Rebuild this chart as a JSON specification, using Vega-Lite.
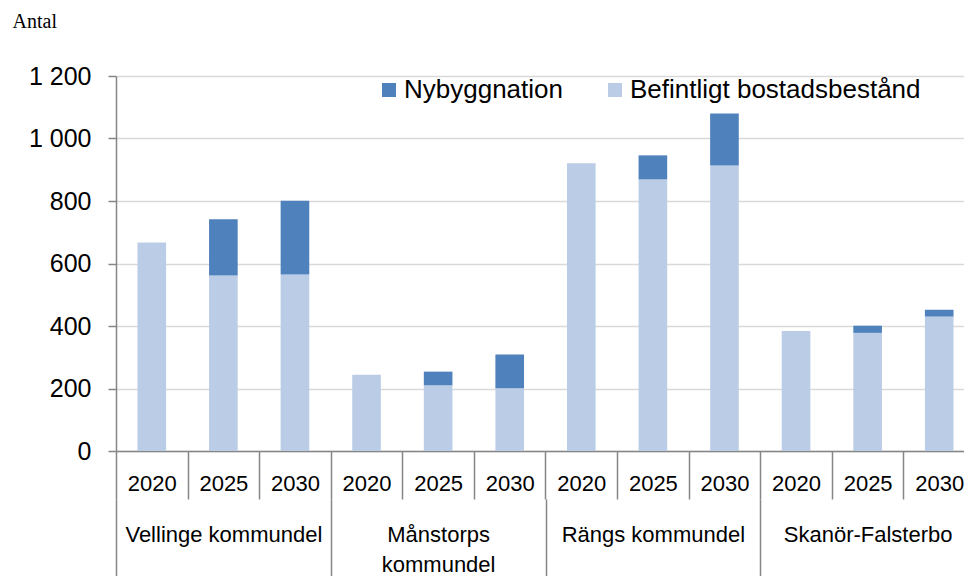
{
  "$schema": "https://vega.github.io/schema/vega-lite/v6.json",
  "width": 859,
  "height": 375,
  "autosize": {"type": "none"},
  "padding": {"left": 116, "top": 76, "right": 0, "bottom": 125},
  "config": {"view": {"stroke": null}, "font": "Liberation Sans"},
  "layer": [
    {
      "data": {
        "values": [
          {"key": "Vellinge kommundel|2020", "series": "Befintligt bostadsbestånd", "value": 667},
          {"key": "Vellinge kommundel|2020", "series": "Nybyggnation", "value": 0},
          {"key": "Vellinge kommundel|2025", "series": "Befintligt bostadsbestånd", "value": 562},
          {"key": "Vellinge kommundel|2025", "series": "Nybyggnation", "value": 180},
          {"key": "Vellinge kommundel|2030", "series": "Befintligt bostadsbestånd", "value": 565},
          {"key": "Vellinge kommundel|2030", "series": "Nybyggnation", "value": 236},
          {"key": "Månstorps kommundel|2020", "series": "Befintligt bostadsbestånd", "value": 244},
          {"key": "Månstorps kommundel|2020", "series": "Nybyggnation", "value": 0},
          {"key": "Månstorps kommundel|2025", "series": "Befintligt bostadsbestånd", "value": 210},
          {"key": "Månstorps kommundel|2025", "series": "Nybyggnation", "value": 44},
          {"key": "Månstorps kommundel|2030", "series": "Befintligt bostadsbestånd", "value": 201},
          {"key": "Månstorps kommundel|2030", "series": "Nybyggnation", "value": 108},
          {"key": "Rängs kommundel|2020", "series": "Befintligt bostadsbestånd", "value": 921},
          {"key": "Rängs kommundel|2020", "series": "Nybyggnation", "value": 0},
          {"key": "Rängs kommundel|2025", "series": "Befintligt bostadsbestånd", "value": 869},
          {"key": "Rängs kommundel|2025", "series": "Nybyggnation", "value": 77},
          {"key": "Rängs kommundel|2030", "series": "Befintligt bostadsbestånd", "value": 914},
          {"key": "Rängs kommundel|2030", "series": "Nybyggnation", "value": 166},
          {"key": "Skanör-Falsterbo|2020", "series": "Befintligt bostadsbestånd", "value": 384},
          {"key": "Skanör-Falsterbo|2020", "series": "Nybyggnation", "value": 0},
          {"key": "Skanör-Falsterbo|2025", "series": "Befintligt bostadsbestånd", "value": 378},
          {"key": "Skanör-Falsterbo|2025", "series": "Nybyggnation", "value": 23},
          {"key": "Skanör-Falsterbo|2030", "series": "Befintligt bostadsbestånd", "value": 430},
          {"key": "Skanör-Falsterbo|2030", "series": "Nybyggnation", "value": 22}
        ]
      },
      "mark": {"type": "bar", "width": {"band": 0.4}},
      "encoding": {
        "x": {
          "field": "key",
          "type": "nominal",
          "sort": null,
          "scale": {"paddingInner": 0, "paddingOuter": 0},
          "axis": {
            "title": null,
            "labelExpr": "split(datum.label, '|')[1]",
            "tickBand": "extent",
            "tickSize": 48,
            "tickColor": "#868686",
            "tickWidth": 1.5,
            "domainColor": "#868686",
            "domainWidth": 1.5,
            "labelFont": "Liberation Sans",
            "labelFontSize": 22,
            "labelColor": "#000000",
            "labelAngle": 0,
            "labelAlign": "center",
            "labelBaseline": "alphabetic",
            "labelPadding": -9,
            "labelOverlap": false,
            "labelFlush": false,
            "labelLimit": 0,
            "grid": false
          }
        },
        "y": {
          "field": "value",
          "type": "quantitative",
          "stack": "zero",
          "scale": {"domain": [0, 1200]},
          "axis": {
            "title": "Antal",
            "titleAngle": 0,
            "titleX": -104,
            "titleY": -49,
            "titleAlign": "left",
            "titleBaseline": "alphabetic",
            "titleFont": "Liberation Serif",
            "titleFontSize": 20,
            "titleFontWeight": "normal",
            "titleColor": "#000000",
            "values": [0, 200, 400, 600, 800, 1000, 1200],
            "labelExpr": "replace(format(datum.value, ','), ',', ' ')",
            "labelFontSize": 25,
            "labelColor": "#000000",
            "labelPadding": 17,
            "tickSize": 8,
            "tickColor": "#868686",
            "tickWidth": 1.5,
            "domainColor": "#868686",
            "domainWidth": 1.5,
            "gridColor": "#D9D9D9",
            "gridWidth": 1.5
          }
        },
        "color": {
          "field": "series",
          "type": "nominal",
          "scale": {
            "domain": ["Nybyggnation", "Befintligt bostadsbestånd"],
            "range": ["#4F81BD", "#BBCDE6"]
          },
          "legend": {
            "title": null,
            "orient": "none",
            "legendX": 260,
            "legendY": 1,
            "direction": "horizontal",
            "symbolType": "square",
            "symbolSize": 196,
            "symbolStrokeWidth": 0,
            "labelFontSize": 26,
            "labelColor": "#000000",
            "labelOffset": 2,
            "columnPadding": 39,
            "labelLimit": 0
          }
        },
        "order": {"field": "series", "sort": "ascending"}
      }
    },
    {
      "data": {
        "values": [
          {"group": "Vellinge kommundel"},
          {"group": "Månstorps kommundel"},
          {"group": "Rängs kommundel"},
          {"group": "Skanör-Falsterbo"}
        ]
      },
      "mark": {"type": "text", "opacity": 0},
      "encoding": {
        "x": {
          "field": "group",
          "type": "nominal",
          "sort": null,
          "scale": {"paddingInner": 0, "paddingOuter": 0},
          "axis": {
            "title": null,
            "orient": "bottom",
            "offset": 48,
            "domain": false,
            "grid": false,
            "tickBand": "extent",
            "tickSize": 130,
            "tickColor": "#868686",
            "tickWidth": 1.5,
            "labelExpr": "datum.label == 'Månstorps kommundel' ? ['Månstorps', 'kommundel'] : datum.label",
            "labelFont": "Liberation Sans",
            "labelFontSize": 22,
            "labelLineHeight": 30,
            "labelColor": "#000000",
            "labelAngle": 0,
            "labelAlign": "center",
            "labelBaseline": "alphabetic",
            "labelPadding": -88,
            "labelOverlap": false,
            "labelFlush": false,
            "labelLimit": 0
          }
        }
      }
    }
  ],
  "resolve": {"scale": {"x": "independent", "color": "independent"}, "axis": {"x": "independent"}}
}
